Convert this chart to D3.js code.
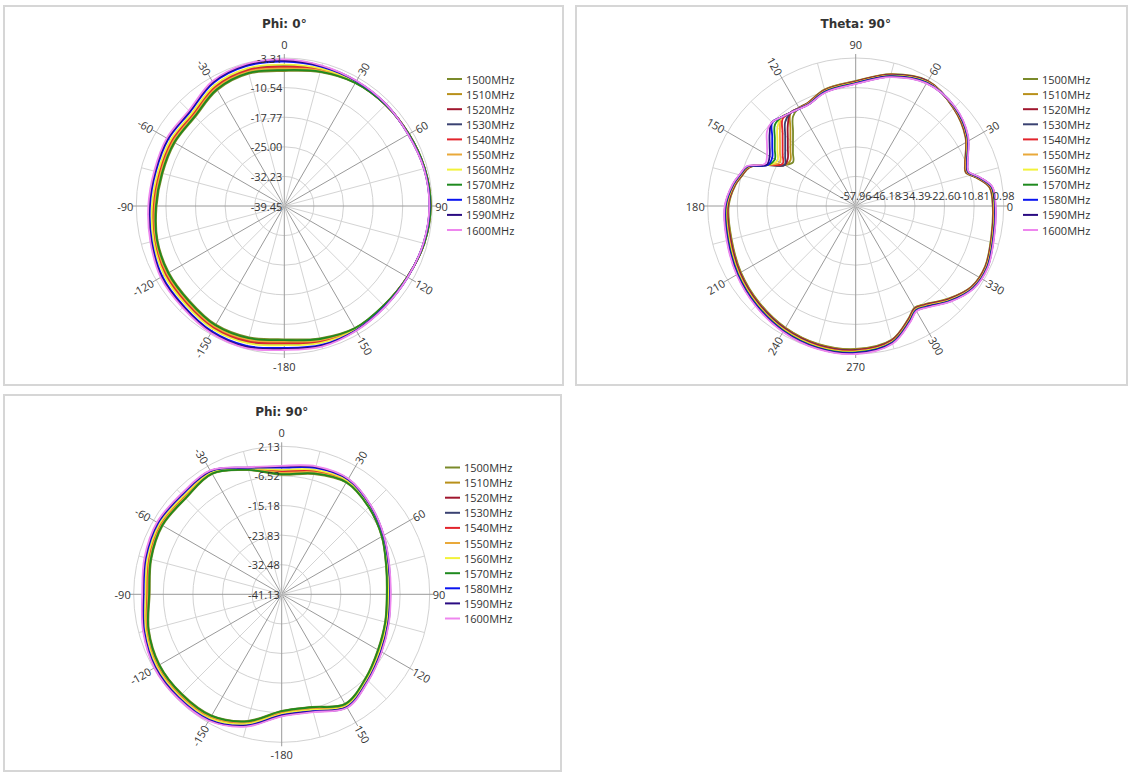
<!DOCTYPE html>
<html>
<head>
<meta charset="utf-8">
<script src="https://cdn.jsdelivr.net/npm/d3@7"></script>
<style>
body { margin: 0; background: #fff; }
svg { display: block; font-family: "Segoe UI", "Open Sans", "Noto Sans", sans-serif; }
</style>
</head>
<body>
<svg></svg>
<script>
let freqs = ['1500MHz', '1510MHz', '1520MHz', '1530MHz', '1540MHz', '1550MHz', '1560MHz', '1570MHz', '1580MHz', '1590MHz', '1600MHz']
let colors = ['#7a8a2a', '#b8901a', '#a0162e', '#3a4272', '#e2242c', '#e9a93a', '#f2f23a', '#1f8a1f', '#0a14f0', '#2a0b82', '#ee86ee']

// ring (gain, dB) labels of each chart
let phi0Rings = ['-39.45', '-32.23', '-25.00', '-17.77', '-10.54', '-3.31']
let theta90Rings = ['-57.96', '-46.18', '-34.39', '-22.60', '-10.81', '0.98']
let phi90Rings = ['-41.13', '-32.48', '-23.83', '-15.18', '-6.52', '2.13']

// angle ticks
let angleTicks = [0, 30, 60, 90, 120, 150, 180, 210, 240, 270, 300, 330]
let phiTickLabels = ['0', '30', '60', '90', '120', '150', '-180', '-150', '-120', '-90', '-60', '-30']
let thetaTickLabels = ['0', '30', '60', '90', '120', '150', '180', '210', '240', '270', '300', '330']

// ---- Phi: 0° ----
let phi0Angles = [0, 15, 30, 45, 60, 75, 90, 105, 120, 135, 150, 165, 180, 195, 210, 225, 240, 255, 270, 285, 300, 315, 330, 345]
let phi0_1500 = [-6.49, -5.60, -4.78, -4.53, -4.29, -3.92, -3.67, -4.04, -4.78, -5.14, -5.02, -6.00, -6.90, -6.24, -6.00, -6.73, -6.90, -7.39, -8.27, -8.68, -8.58, -8.68, -6.73, -6.00]
let phi0_1510 = [-6.06, -5.35, -4.69, -4.49, -4.33, -3.96, -3.73, -4.08, -4.76, -5.07, -4.91, -5.69, -6.51, -5.84, -5.65, -6.37, -6.55, -7.12, -7.97, -8.36, -8.24, -8.35, -6.36, -5.63]
let phi0_1520 = [-5.63, -5.10, -4.59, -4.46, -4.36, -3.99, -3.78, -4.12, -4.74, -4.99, -4.80, -5.38, -6.12, -5.43, -5.29, -6.01, -6.21, -6.85, -7.66, -8.04, -7.90, -8.02, -6.00, -5.26]
let phi0_1530 = [-5.20, -4.85, -4.50, -4.42, -4.40, -4.03, -3.84, -4.15, -4.72, -4.92, -4.69, -5.06, -5.73, -5.03, -4.94, -5.65, -5.86, -6.58, -7.36, -7.73, -7.56, -7.69, -5.63, -4.90]
let phi0_1540 = [-5.40, -4.97, -4.54, -4.44, -4.38, -4.01, -3.81, -4.14, -4.73, -4.95, -4.74, -5.21, -5.91, -5.22, -5.11, -5.82, -6.03, -6.71, -7.50, -7.87, -7.72, -7.85, -5.80, -5.07]
let phi0_1550 = [-5.86, -5.23, -4.64, -4.48, -4.34, -3.97, -3.75, -4.10, -4.75, -5.03, -4.86, -5.54, -6.33, -5.65, -5.48, -6.20, -6.39, -7.00, -7.82, -8.21, -8.08, -8.20, -6.19, -5.46]
let phi0_1560 = [-4.92, -4.69, -4.44, -4.40, -4.42, -4.05, -3.87, -4.18, -4.71, -4.87, -4.62, -4.86, -5.46, -4.76, -4.71, -5.42, -5.63, -6.41, -7.15, -7.51, -7.33, -7.48, -5.39, -4.65]
let phi0_1570 = [-6.26, -5.47, -4.73, -4.51, -4.31, -3.94, -3.70, -4.06, -4.77, -5.10, -4.96, -5.83, -6.69, -6.02, -5.81, -6.54, -6.72, -7.25, -8.11, -8.51, -8.40, -8.50, -6.53, -5.80]
let phi0_1580 = [-4.20, -4.27, -4.28, -4.34, -4.48, -4.11, -3.97, -4.24, -4.68, -4.75, -4.44, -4.34, -4.81, -4.09, -4.12, -4.82, -5.06, -5.96, -6.65, -6.98, -6.76, -6.93, -4.78, -4.04]
let phi0_1590 = [-3.92, -4.11, -4.22, -4.31, -4.51, -4.14, -4.00, -4.27, -4.66, -4.70, -4.36, -4.13, -4.55, -3.82, -3.88, -4.58, -4.83, -5.78, -6.44, -6.77, -6.54, -6.71, -4.53, -3.79]
let phi0_1600 = [-3.63, -3.94, -4.16, -4.29, -4.53, -4.16, -4.04, -4.29, -4.65, -4.65, -4.29, -3.92, -4.29, -3.55, -3.65, -4.34, -4.60, -5.60, -6.24, -6.56, -6.31, -6.49, -4.29, -3.55]

// ---- Theta: 90° ----
let theta90Angles = [0, 8, 13, 17, 21, 32, 45, 60, 75, 90, 105, 115, 120, 125, 130, 135, 140, 145, 150, 155, 160, 165, 170, 180, 195, 210, 225, 240, 255, 270, 285, 295, 300, 305, 315, 325, 335, 348]
let theta90_1500 = [-3.40, -4.20, -8.38, -12.16, -11.36, -6.39, -2.88, -0.41, -3.60, -8.18, -9.97, -12.68, -12.84, -14.43, -19.13, -22.64, -25.34, -27.50, -25.30, -19.33, -12.96, -11.17, -9.37, -7.38, -6.79, -5.19, -3.60, -2.01, -1.01, -1.01, -2.80, -8.38, -11.17, -10.17, -5.79, -1.81, -1.09, -2.69]
let theta90_1510 = [-3.28, -4.08, -8.26, -12.04, -11.24, -6.27, -2.80, -0.53, -3.72, -8.30, -10.09, -12.76, -12.88, -12.76, -17.50, -21.20, -24.03, -26.22, -25.30, -19.33, -12.84, -11.05, -9.25, -7.22, -6.59, -4.99, -3.40, -1.81, -0.81, -0.81, -2.64, -8.22, -11.01, -10.01, -5.63, -1.69, -0.97, -2.57]
let theta90_1520 = [-3.16, -3.96, -8.14, -11.92, -11.12, -6.15, -2.72, -0.65, -3.84, -8.42, -10.21, -12.84, -12.92, -12.64, -15.91, -19.73, -22.68, -24.95, -25.30, -19.33, -12.72, -10.93, -9.13, -7.06, -6.39, -4.79, -3.20, -1.61, -0.61, -0.61, -2.48, -8.06, -10.85, -9.85, -5.47, -1.57, -0.85, -2.45]
let theta90_1530 = [-3.04, -3.84, -8.02, -11.80, -11.00, -6.03, -2.64, -0.77, -3.96, -8.54, -10.33, -12.92, -12.96, -12.64, -14.27, -18.26, -21.32, -23.67, -25.30, -19.33, -12.60, -10.81, -9.01, -6.90, -6.19, -4.59, -3.00, -1.41, -0.41, -0.41, -2.32, -7.90, -10.69, -9.69, -5.31, -1.45, -0.73, -2.33]
let theta90_1540 = [-2.92, -3.72, -7.90, -11.68, -10.88, -5.91, -2.56, -0.89, -4.08, -8.66, -10.45, -13.00, -13.00, -12.64, -12.68, -16.78, -19.97, -22.44, -24.35, -19.33, -12.48, -10.69, -8.89, -6.74, -5.99, -4.39, -2.80, -1.21, -0.21, -0.21, -2.16, -7.74, -10.53, -9.53, -5.15, -1.33, -0.61, -2.21]
let theta90_1550 = [-2.80, -3.60, -7.78, -11.56, -10.76, -5.79, -2.48, -1.01, -4.20, -8.78, -10.57, -13.08, -13.04, -12.64, -11.84, -15.31, -18.61, -21.16, -23.15, -19.33, -12.36, -10.57, -8.77, -6.58, -5.79, -4.19, -2.60, -1.01, -0.01, -0.01, -2.00, -7.58, -10.37, -9.37, -4.99, -1.21, -0.49, -2.09]
let theta90_1560 = [-2.69, -3.49, -7.67, -11.45, -10.65, -5.68, -2.40, -1.12, -4.31, -8.89, -10.68, -13.16, -13.08, -12.64, -11.84, -13.87, -17.26, -19.89, -21.96, -19.33, -12.25, -10.46, -8.66, -6.43, -5.60, -4.00, -2.41, -0.82, 0.18, 0.18, -1.85, -7.43, -10.22, -9.22, -4.84, -1.10, -0.38, -1.98]
let theta90_1570 = [-2.57, -3.37, -7.55, -11.33, -10.53, -5.56, -2.32, -1.24, -4.43, -9.01, -10.80, -13.24, -13.12, -12.64, -11.84, -12.40, -15.91, -18.61, -20.76, -19.33, -12.13, -10.34, -8.54, -6.27, -5.40, -3.80, -2.21, -0.62, 0.38, 0.38, -1.69, -7.27, -10.06, -9.06, -4.68, -0.98, -0.26, -1.86]
let theta90_1580 = [-2.45, -3.25, -7.43, -11.21, -10.41, -5.44, -2.24, -1.36, -4.55, -9.13, -10.92, -13.32, -13.16, -12.64, -11.84, -10.93, -14.55, -17.38, -19.57, -19.33, -12.01, -10.22, -8.42, -6.11, -5.20, -3.60, -2.01, -0.42, 0.58, 0.58, -1.53, -7.11, -9.90, -8.90, -4.52, -0.86, -0.14, -1.74]
let theta90_1590 = [-2.33, -3.13, -7.31, -11.09, -10.29, -5.32, -2.16, -1.48, -4.67, -9.25, -11.04, -13.40, -13.20, -12.64, -11.84, -10.73, -13.20, -16.11, -18.37, -18.93, -11.89, -10.10, -8.30, -5.95, -5.00, -3.40, -1.81, -0.22, 0.78, 0.78, -1.37, -6.95, -9.74, -8.74, -4.36, -0.74, -0.02, -1.62]
let theta90_1600 = [-2.21, -3.01, -7.19, -10.97, -10.17, -5.20, -2.08, -1.60, -4.79, -9.37, -11.16, -13.48, -13.24, -12.64, -11.84, -10.73, -11.84, -14.83, -17.18, -18.14, -11.77, -9.98, -8.18, -5.79, -4.80, -3.20, -1.61, -0.02, 0.98, 0.98, -1.21, -6.79, -9.58, -8.58, -4.20, -0.62, 0.10, -1.50]

// ---- Phi: 90° ----
let phi90Angles = [0, 15, 30, 45, 60, 75, 90, 105, 120, 135, 150, 165, 180, 195, 210, 225, 240, 255, 270, 285, 300, 315, 330, 345]
let phi90_1500 = [-6.20, -4.74, -3.42, -5.18, -7.37, -9.56, -10.44, -9.85, -8.68, -6.49, -4.15, -7.08, -7.08, -2.84, -0.21, 0.08, 0.08, -0.94, -2.55, -1.67, -0.94, -1.52, -0.50, -3.57]
let phi90_1510 = [-5.81, -4.39, -3.22, -5.05, -7.26, -9.41, -10.26, -9.67, -8.48, -6.31, -3.95, -6.84, -6.84, -2.58, 0.05, 0.34, 0.34, -0.68, -2.22, -1.36, -0.66, -1.24, -0.32, -3.44]
let phi90_1520 = [-5.41, -4.04, -3.03, -4.92, -7.15, -9.25, -10.09, -9.50, -8.29, -6.14, -3.76, -6.60, -6.60, -2.32, 0.32, 0.61, 0.61, -0.42, -1.89, -1.06, -0.37, -0.95, -0.15, -3.31]
let phi90_1530 = [-5.02, -3.69, -2.83, -4.78, -7.04, -9.10, -9.91, -9.32, -8.09, -5.96, -3.56, -6.36, -6.36, -2.05, 0.58, 0.87, 0.87, -0.15, -1.56, -0.75, -0.09, -0.67, 0.03, -3.17]
let phi90_1540 = [-5.20, -3.85, -2.92, -4.85, -7.09, -9.17, -10.00, -9.41, -8.18, -6.05, -3.65, -6.47, -6.47, -2.18, 0.46, 0.75, 0.75, -0.28, -1.71, -0.89, -0.22, -0.80, -0.06, -3.24]
let phi90_1550 = [-5.62, -4.23, -3.13, -4.99, -7.21, -9.34, -10.18, -9.59, -8.39, -6.23, -3.86, -6.73, -6.73, -2.46, 0.18, 0.47, 0.47, -0.56, -2.07, -1.22, -0.52, -1.10, -0.24, -3.38]
let phi90_1560 = [-4.75, -3.45, -2.70, -4.70, -6.97, -9.00, -9.80, -9.21, -7.96, -5.85, -3.43, -6.19, -6.19, -1.88, 0.76, 1.05, 1.05, 0.02, -1.34, -0.54, 0.11, -0.48, 0.14, -3.09]
let phi90_1570 = [-5.99, -4.55, -3.32, -5.11, -7.31, -9.48, -10.35, -9.76, -8.58, -6.40, -4.05, -6.95, -6.95, -2.70, -0.07, 0.22, 0.22, -0.80, -2.37, -1.51, -0.79, -1.37, -0.41, -3.50]
let phi90_1580 = [-4.10, -2.87, -2.37, -4.48, -6.79, -8.74, -9.50, -8.91, -7.63, -5.55, -3.10, -5.79, -5.79, -1.44, 1.20, 1.49, 1.49, 0.46, -0.79, -0.03, 0.58, 0.00, 0.44, -2.87]
let phi90_1590 = [-3.83, -2.63, -2.24, -4.39, -6.71, -8.64, -9.39, -8.80, -7.50, -5.44, -2.97, -5.63, -5.63, -1.27, 1.37, 1.66, 1.66, 0.64, -0.57, 0.18, 0.77, 0.19, 0.55, -2.78]
let phi90_1600 = [-3.57, -2.40, -2.11, -4.30, -6.64, -8.54, -9.27, -8.68, -7.37, -5.32, -2.84, -5.47, -5.47, -1.09, 1.55, 1.84, 1.84, 0.81, -0.35, 0.38, 0.96, 0.38, 0.67, -2.69]

let width = 1128
let height = 772
let R = 148

let panels = [
    { title: 'Phi: 0°', box: [4, 6, 559, 379], cx: 284.3, cy: 206, legendX: 447, legendY: 79,
      rings: phi0Rings, theta: false, tickLabels: phiTickLabels, angles: phi0Angles,
      series: [phi0_1500, phi0_1510, phi0_1520, phi0_1530, phi0_1540, phi0_1550, phi0_1560, phi0_1570, phi0_1580, phi0_1590, phi0_1600] },
    { title: 'Theta: 90°', box: [576, 6, 551, 379], cx: 855.7, cy: 206, legendX: 1023, legendY: 79,
      rings: theta90Rings, theta: true, tickLabels: thetaTickLabels, angles: theta90Angles,
      series: [theta90_1500, theta90_1510, theta90_1520, theta90_1530, theta90_1540, theta90_1550, theta90_1560, theta90_1570, theta90_1580, theta90_1590, theta90_1600] },
    { title: 'Phi: 90°', box: [4, 395, 557, 376], cx: 281.7, cy: 594.3, legendX: 445, legendY: 467.5,
      rings: phi90Rings, theta: false, tickLabels: phiTickLabels, angles: phi90Angles,
      series: [phi90_1500, phi90_1510, phi90_1520, phi90_1530, phi90_1540, phi90_1550, phi90_1560, phi90_1570, phi90_1580, phi90_1590, phi90_1600] }
]

let svg = d3.select('svg')
    .attr('width', width)
    .attr('height', height)

let drawPanel = (p) => {
    let g = svg.append('g')

    g.append('rect')
        .attr('x', p.box[0])
        .attr('y', p.box[1])
        .attr('width', p.box[2])
        .attr('height', p.box[3])
        .attr('fill', '#fff')
        .attr('stroke', '#d6d6d6')
        .attr('stroke-width', 2)

    let ringVals = p.rings.map(Number)
    let rScale = d3.scaleLinear()
        .domain([ringVals[0], ringVals[ringVals.length - 1]])
        .range([0, R])
        .clamp(true)

    // angle in radians, clockwise from 12 o'clock (d3.lineRadial convention)
    let aScale = p.theta
        ? d3.scaleLinear().domain([0, 360]).range([Math.PI / 2, Math.PI / 2 - 2 * Math.PI])
        : d3.scaleLinear().domain([0, 360]).range([0, 2 * Math.PI])

    let plot = g.append('g').attr('transform', 'translate(' + p.cx + ',' + p.cy + ')')

    // rings
    plot.selectAll('circle.ring')
        .data(ringVals.slice(1))
        .enter()
        .append('circle')
        .attr('class', 'ring')
        .attr('r', d => rScale(d))
        .attr('fill', 'none')
        .attr('stroke', '#d2d2d2')
        .attr('stroke-width', 1)

    // spokes every 15 degrees, darker every 30
    let spokes = d3.range(0, 360, 15)
    plot.selectAll('line.spoke')
        .data(spokes)
        .enter()
        .append('line')
        .attr('class', 'spoke')
        .attr('x1', 0)
        .attr('y1', 0)
        .attr('x2', d => Math.sin(aScale(d)) * (d % 30 === 0 ? R + 4 : R))
        .attr('y2', d => -Math.cos(aScale(d)) * (d % 30 === 0 ? R + 4 : R))
        .attr('stroke', d => d % 30 === 0 ? '#9a9a9a' : '#d4d4d4')
        .attr('stroke-width', 1)

    // angle labels
    angleTicks.forEach((t, i) => {
        let a = aScale(t)
        let deg = ((a * 180 / Math.PI) % 360 + 360) % 360
        deg = Math.round(deg * 100) / 100
        let txt = plot.append('text')
            .text(p.tickLabels[i])
            .attr('font-size', 11)
            .attr('fill', '#333')
        if (deg === 0) {
            txt.attr('x', 0).attr('y', -R - 9).attr('text-anchor', 'middle')
        } else if (deg === 180) {
            txt.attr('x', 0).attr('y', R + 17).attr('text-anchor', 'middle')
        } else if (deg === 90) {
            txt.attr('x', R + 3).attr('y', 0).attr('text-anchor', 'start').attr('dominant-baseline', 'central')
        } else if (deg === 270) {
            txt.attr('x', -R - 3).attr('y', 0).attr('text-anchor', 'end').attr('dominant-baseline', 'central')
        } else {
            let x = Math.sin(a) * (R + 4)
            let y = -Math.cos(a) * (R + 4)
            let rot = deg < 180 ? deg - 90 : deg - 270
            txt.attr('transform', 'translate(' + x + ',' + y + ') rotate(' + rot + ')')
                .attr('text-anchor', deg < 180 ? 'start' : 'end')
                .attr('dominant-baseline', 'central')
        }
    })

    // series curves
    let line = d3.lineRadial()
        .angle(d => aScale(d[0]))
        .radius(d => rScale(d[1]))
        .curve(d3.curveCatmullRomClosed.alpha(0.5))

    p.series.forEach((vals, i) => {
        let pts = p.angles.map((a, j) => [a, vals[j]])
        plot.append('path')
            .attr('d', line(pts))
            .attr('fill', 'none')
            .attr('stroke', colors[i])
            .attr('stroke-width', 1.8)
    })

    // ring value labels
    p.rings.forEach((lbl, i) => {
        let r = rScale(ringVals[i])
        if (p.theta) {
            plot.append('text')
                .text(lbl)
                .attr('x', r)
                .attr('y', -6.5)
                .attr('text-anchor', 'middle')
                .attr('font-size', 11)
                .attr('fill', '#333')
        } else {
            plot.append('text')
                .text(lbl)
                .attr('x', -2)
                .attr('y', -r)
                .attr('text-anchor', 'end')
                .attr('dominant-baseline', 'central')
                .attr('font-size', 11)
                .attr('fill', '#333')
        }
    })

    // title
    g.append('text')
        .text(p.title)
        .attr('x', p.cx)
        .attr('y', p.cy - 178.5)
        .attr('text-anchor', 'middle')
        .attr('font-family', '"DejaVu Sans", Verdana, sans-serif')
        .attr('font-weight', 'bold')
        .attr('font-size', 12)
        .attr('fill', '#333')

    // legend
    let legend = g.append('g')
    freqs.forEach((f, i) => {
        let y = p.legendY + i * 15.1
        legend.append('line')
            .attr('x1', p.legendX)
            .attr('x2', p.legendX + 15)
            .attr('y1', y)
            .attr('y2', y)
            .attr('stroke', colors[i])
            .attr('stroke-width', 2)
        legend.append('text')
            .text(f)
            .attr('x', p.legendX + 19)
            .attr('y', y)
            .attr('dominant-baseline', 'central')
            .attr('font-size', 11)
            .attr('fill', '#333')
    })
}

panels.forEach(drawPanel)
</script>
</body>
</html>
